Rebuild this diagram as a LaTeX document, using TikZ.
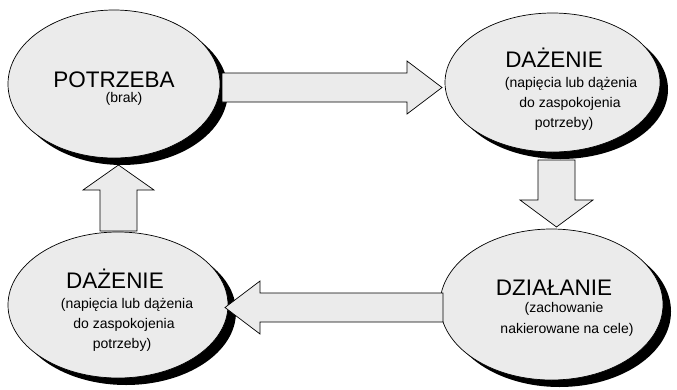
\documentclass[tikz,border=0pt]{standalone}
\usepackage{fontspec}
\setmainfont{Liberation Sans}
\usetikzlibrary{shapes.geometric,calc}
\begin{document}
\begin{tikzpicture}[x=1pt,y=-1pt,
  ell/.style={ellipse, draw=black, line width=0.7pt, fill=black!8, inner sep=0pt},
  shd/.style={ellipse, fill=black, draw=none, inner sep=0pt},
  blk/.style={draw=black, line width=0.7pt, fill=black!8, line join=miter},
  ttl/.style={font=\fontsize{22.5}{27}\selectfont, inner sep=0pt, anchor=base},
  sub/.style={font=\fontsize{14}{20}\selectfont, inner sep=0pt, anchor=base}]
\useasboundingbox[fill=white] (0,0) rectangle (677,389);

% shadows
\node[shd, minimum width=212pt, minimum height=148pt] (As) at (122,91) {};
\node[shd, minimum width=215pt, minimum height=139pt] (Bs) at (560.5,89.5) {};
\node[shd, minimum width=220pt, minimum height=146pt] (Cs) at (126,312) {};
\node[shd, minimum width=223pt, minimum height=151pt] (Ds) at (559.5,311.5) {};

% ellipses
\node[ell, minimum width=212pt, minimum height=148pt] (A) at (114,84) {};
\node[ell, minimum width=215pt, minimum height=139pt] (B) at (552.5,82.5) {};
\node[ell, minimum width=220pt, minimum height=146pt] (C) at (118,305) {};
\node[ell, minimum width=223pt, minimum height=151pt] (D) at (551.5,304.5) {};

% arrow ends
\coordinate (r0) at (222,87.5);   \coordinate (r1) at (442,87.5);
\coordinate (d0) at (556.5,160);  \coordinate (d1) at (556.5,227);
\coordinate (l0) at (443,307.5);  \coordinate (l1) at (225,307.5);
\coordinate (u0) at (118.5,231);  \coordinate (u1) at (118.5,165);

% A -> B
\draw[blk] ($(r0)+(0,-14.5)$) -- ($(r1)+(-35,-14.5)$) -- ($(r1)+(-35,-26.5)$) -- (r1)
  -- ($(r1)+(-35,26.5)$) -- ($(r1)+(-35,14.5)$) -- ($(r0)+(0,14.5)$) -- cycle;
% B -> D
\draw[blk] ($(d0)+(-18.5,0)$) -- ($(d1)+(-18.5,-27)$) -- ($(d1)+(-36.5,-27)$) -- (d1)
  -- ($(d1)+(36.5,-27)$) -- ($(d1)+(18.5,-27)$) -- ($(d0)+(18.5,0)$) -- cycle;
% D -> C
\draw[blk] ($(l0)+(0,-14.5)$) -- ($(l1)+(35,-14.5)$) -- ($(l1)+(35,-26.5)$) -- (l1)
  -- ($(l1)+(35,26.5)$) -- ($(l1)+(35,14.5)$) -- ($(l0)+(0,14.5)$) -- cycle;
% C -> A
\draw[blk] ($(u0)+(-18.5,0)$) -- ($(u1)+(-18.5,25)$) -- ($(u1)+(-35.5,25)$) -- (u1)
  -- ($(u1)+(35.5,25)$) -- ($(u1)+(18.5,25)$) -- ($(u0)+(18.5,0)$) -- cycle;

% texts A
\node[ttl] (At) at (114,87) {POTRZEBA};
\node[sub] (Ab) at (124,102) {(brak)};
% texts B
\node[ttl] (Bt) at (554,67) {DAŻENIE};
\node[sub] (Bb1) at (571,87) {(napięcia lub dążenia};
\node[sub] (Bb2) at (570,107) {do zaspokojenia};
\node[sub] (Bb3) at (564,127) {potrzeby)};
% texts C
\node[ttl] (Ct) at (115,288) {DAŻENIE};
\node[sub] (Cb1) at (127,308) {(napięcia lub dążenia};
\node[sub] (Cb2) at (124,328) {do zaspokojenia};
\node[sub] (Cb3) at (122,348) {potrzeby)};
% texts D
\node[ttl] (Dt) at (554,295) {DZIAŁANIE};
\node[sub] (Db1) at (564,312) {(zachowanie};
\node[sub] (Db2) at (567,333) {nakierowane na cele)};
\end{tikzpicture}
\end{document}
